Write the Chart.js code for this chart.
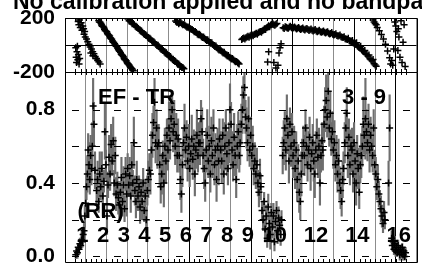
<!DOCTYPE html>
<html>
<head>
<meta charset="utf-8">
<script src="https://cdn.jsdelivr.net/npm/chart.js@4/dist/chart.umd.min.js"></script>
<style>
body { margin: 0; background: #fff; overflow: hidden; }
#wrap { position: relative; width: 422px; height: 275px; overflow: hidden; }
#chart { position: absolute; left: 0; top: 0; }
#title { position: absolute; left: 13px; top: -10px; font: bold 23px/23px 'Liberation Sans', Arial, sans-serif; white-space: nowrap; color: #000; }
</style>
</head>
<body>
<div id="wrap">
  <canvas id="chart" width="422" height="275"></canvas>
  <div id="title">No calibration applied and no bandpass applied</div>
</div>
<script>
// scan numbers written at the bottom of each scan (empty = not written)
const scanLabels = ['1', '2', '3', '4', '5', '6', '7', '8', '9', '10', '', '12', '', '14', '', '16'];

// phase panel ticks
const phaseTicks = [-200, 0, 200];
const phaseTickLabels = ['-200', '', '200'];

// amplitude panel ticks
const ampTicks = [0.0, 0.4, 0.8];
const ampTickLabels = ['0.0', '0.4', '0.8'];
const ampMinorTicks = [0.0, 0.2, 0.4, 0.6, 0.8];

// phase (degrees) vs time (scan units)
const phaseX = [
  0.02, 0.04, 0.06, 0.08, 0.10, 0.12, 0.15, 0.18, 0.21, 0.14, 0.17, 0.20, 0.24, 0.28, 0.32, 0.36, 0.40, 0.45, 0.42, 0.48, 0.54, 0.60, 0.66, 0.72, 0.78, 0.84, 0.90, 0.96, 1.02, 1.08, 1.14, 1.20, 0.75, 0.85,
  1.13, 1.20, 1.27, 1.34, 1.41, 1.48, 1.55, 1.62, 1.69, 1.76, 1.83, 1.90, 1.97, 2.04, 2.11, 2.18, 2.25, 2.32, 2.39, 2.46, 2.53, 2.60, 2.67, 2.74, 2.80,
  1.16, 1.24, 1.30, 1.38, 1.44, 1.52, 1.58, 1.66, 1.72, 1.80, 1.86, 1.94, 2.00, 2.08, 2.14, 2.22, 2.28, 2.36, 2.42, 2.50, 2.56, 2.64, 2.70, 2.77,
  2.55, 2.65, 2.75, 2.85, 2.95, 3.05, 3.15, 3.25, 3.35, 3.45, 3.55, 3.65, 3.75, 3.85, 3.95, 4.05, 4.15, 4.25, 4.35, 4.45, 4.55, 4.65, 4.75, 4.85, 4.95, 5.05, 5.15, 5.25,
  2.60, 2.70, 2.80, 2.90, 3.00, 3.10, 3.20, 3.30, 3.40, 3.50, 3.60, 3.70, 3.80, 3.90, 4.00, 4.10, 4.20, 4.30, 4.40, 4.50, 4.60, 4.70, 4.80, 4.90, 5.00, 5.10, 5.20,
  4.85, 4.95, 5.05, 5.15, 5.25, 5.35, 5.45, 5.55, 5.65, 5.75, 5.85, 5.95, 6.05, 6.15, 6.25, 6.35, 6.45, 6.55, 6.65, 6.75, 6.85, 6.95, 7.05, 7.15, 7.25, 7.35, 7.45, 7.55, 7.65, 7.75, 7.85, 7.92,
  4.90, 5.00, 5.10, 5.20, 5.30, 5.40, 5.50, 5.60, 5.70, 5.80, 5.90, 6.00, 6.10, 6.20, 6.30, 6.40, 6.50, 6.60, 6.70, 6.80, 6.90, 7.00, 7.10, 7.20, 7.30, 7.40, 7.50, 7.60, 7.70, 7.80, 7.88,
  8.05, 8.15, 8.25, 8.35, 8.45, 8.55, 8.65, 8.75, 8.85, 8.95, 9.05, 9.15, 9.25, 9.35, 9.45, 9.55, 9.65, 9.75,
  8.10, 8.20, 8.30, 8.40, 8.50, 8.60, 8.70, 8.80, 8.90, 9.00, 9.10, 9.20, 9.30, 9.40, 9.50, 9.60, 9.70,
  9.30, 9.35, 9.60, 9.70, 9.80, 9.85, 9.90, 9.95,
  10.05, 10.15, 10.25, 10.35, 10.45, 10.55, 10.65, 10.75, 10.85, 10.95, 11.05, 11.15, 11.25, 11.35, 11.45, 11.55, 11.65, 11.75, 11.85, 11.95, 12.05, 12.15, 12.25, 12.35, 12.45, 12.55, 12.65, 12.75, 12.85, 12.95, 13.05, 13.15, 13.25, 13.35, 13.45, 13.55, 13.65, 13.75, 13.85, 13.95, 14.05, 14.15, 14.25, 14.35, 14.45, 14.55,
  10.10, 10.20, 10.30, 10.40, 10.50, 10.60, 10.70, 10.80, 10.90, 11.00, 11.10, 11.20, 11.30, 11.40, 11.50, 11.60, 11.70, 11.80, 11.90, 12.00, 12.10, 12.20, 12.30, 12.40, 12.50, 12.60, 12.70, 12.80, 12.90, 13.00, 13.10, 13.20, 13.30, 13.40, 13.50, 13.60, 13.70, 13.80, 13.90, 14.00, 14.10, 14.20, 14.30, 14.40, 14.50,
  14.40, 14.45, 14.50, 14.55, 14.60, 14.70, 14.80, 14.90, 15.00, 15.10, 15.20, 15.25, 15.30, 15.35, 15.40, 15.45, 15.50, 15.55, 15.60, 15.62, 15.65, 15.70, 15.75, 15.80, 15.85, 15.90, 15.95
];
const phaseY = [
  -20, -90, -130, -50, -10, -110, -70, -140, -100, 175, 150, 185, 130, 165, 110, 140, 120, 100, 80, 60, 45, 25, 5, -15, -30, -50, -65, -85, -100, -115, -125, -140, -60, -80,
  182, 168, 148, 137, 116, 104, 86, 74, 53, 42, 20, 10, -10, -23, -40, -56, -74, -86, -107, -116, -137, -148, -167, -176, -190,
  170, 160, 138, 130, 108, 98, 78, 66, 48, 30, 18, -2, -12, -34, -46, -68, -78, -100, -110, -130, -140, -160, -170, -185,
  192, 176, 158, 150, 133, 122, 106, 94, 78, 68, 50, 42, 23, 14, -4, -13, -32, -40, -60, -68, -87, -96, -114, -123, -142, -150, -167, -176,
  180, 170, 160, 138, 132, 112, 104, 84, 76, 58, 50, 30, 22, 4, -2, -24, -30, -52, -58, -80, -86, -108, -114, -134, -140, -160, -166,
  178, 168, 164, 158, 152, 138, 134, 123, 114, 98, 92, 76, 72, 56, 50, 33, 27, 13, 4, -12, -20, -37, -43, -60, -66, -82, -90, -104, -110, -124, -130, -140,
  168, 158, 166, 150, 146, 132, 128, 116, 108, 100, 82, 80, 62, 60, 40, 38, 18, 16, -4, -8, -30, -32, -52, -54, -74, -78, -96, -100, -118, -122, -136,
  40, 52, 54, 64, 66, 74, 78, 87, 90, 100, 106, 120, 128, 142, 148, 157, 146, 160,
  48, 44, 60, 58, 72, 68, 82, 80, 96, 94, 112, 114, 134, 136, 152, 150, 154,
  -125, -50, -130, -170, -150, -60, -20, 10,
  128, 136, 126, 133, 129, 127, 126, 125, 121, 121, 117, 118, 114, 113, 109, 109, 104, 104, 99, 99, 94, 94, 87, 86, 79, 77, 71, 69, 61, 56, 47, 41, 31, 25, 14, 6, -9, -21, -37, -49, -66, -81, -101, -117, -139, -157,
  122, 132, 124, 138, 122, 133, 119, 130, 115, 126, 112, 123, 108, 119, 104, 114, 99, 110, 94, 104, 88, 98, 82, 92, 74, 84, 66, 74, 58, 62, 44, 50, 28, 34, 10, 16, -14, -10, -42, -40, -72, -74, -110, -108, -148,
  185, 170, 160, 150, 130, 105, 78, 45, 5, -45, -95, -140, -115, -150, -30, 170, 140, 100, -40, 120, 60, -90, 180, -130, 20, 150, -160
];

// amplitude vs time, one line per scan
const ampX = [
  0.02, 0.06, 0.10, 0.14, 0.18, 0.22, 0.26, 0.30, 0.34, 0.38, 0.42, 0.46, 0.50, 0.54, 0.58, 0.62, 0.66, 0.70, 0.74, 0.78, 0.82, 0.86, 0.90, 0.95,
  1.03, 1.08, 1.13, 1.18, 1.23, 1.28, 1.33, 1.38, 1.43, 1.48, 1.53, 1.58, 1.63, 1.68, 1.73, 1.78, 1.83, 1.88, 1.93, 1.97,
  2.03, 2.08, 2.13, 2.18, 2.23, 2.28, 2.33, 2.38, 2.43, 2.48, 2.53, 2.58, 2.63, 2.68, 2.73, 2.78, 2.83, 2.88, 2.93, 2.97,
  3.03, 3.08, 3.13, 3.18, 3.23, 3.28, 3.33, 3.38, 3.43, 3.48, 3.53, 3.58, 3.63, 3.68, 3.73, 3.78, 3.83, 3.88, 3.93, 3.97,
  4.03, 4.08, 4.13, 4.18, 4.23, 4.28, 4.33, 4.38, 4.43, 4.48, 4.53, 4.58, 4.63, 4.68, 4.73, 4.78, 4.83, 4.88, 4.93, 4.97,
  5.03, 5.08, 5.13, 5.18, 5.23, 5.28, 5.33, 5.38, 5.43, 5.48, 5.53, 5.58, 5.63, 5.68, 5.73, 5.78, 5.83, 5.88, 5.93, 5.97,
  6.03, 6.08, 6.13, 6.18, 6.23, 6.28, 6.33, 6.38, 6.43, 6.48, 6.53, 6.58, 6.63, 6.68, 6.73, 6.78, 6.83, 6.88, 6.93, 6.97,
  7.03, 7.08, 7.13, 7.18, 7.23, 7.28, 7.33, 7.38, 7.43, 7.48, 7.53, 7.58, 7.63, 7.68, 7.73, 7.78, 7.83, 7.88, 7.93, 7.97,
  8.03, 8.08, 8.13, 8.18, 8.23, 8.28, 8.33, 8.38, 8.43, 8.48, 8.53, 8.58, 8.63, 8.68, 8.73, 8.78, 8.83, 8.88, 8.93, 8.97,
  9.03, 9.08, 9.13, 9.18, 9.23, 9.28, 9.33, 9.38, 9.43, 9.48, 9.53, 9.58, 9.63, 9.68, 9.73, 9.78, 9.83, 9.88, 9.93, 9.97,
  10.03, 10.08, 10.13, 10.18, 10.23, 10.28, 10.33, 10.38, 10.43, 10.48, 10.53, 10.58, 10.63, 10.68, 10.73, 10.78, 10.83, 10.88, 10.93, 10.97,
  11.03, 11.08, 11.13, 11.18, 11.23, 11.28, 11.33, 11.38, 11.43, 11.48, 11.53, 11.58, 11.63, 11.68, 11.73, 11.78, 11.83, 11.88, 11.93, 11.97,
  12.03, 12.08, 12.13, 12.18, 12.23, 12.28, 12.33, 12.38, 12.43, 12.48, 12.53, 12.58, 12.63, 12.68, 12.73, 12.78, 12.83, 12.88, 12.93, 12.97,
  13.03, 13.08, 13.13, 13.18, 13.23, 13.28, 13.33, 13.38, 13.43, 13.48, 13.53, 13.58, 13.63, 13.68, 13.73, 13.78, 13.83, 13.88, 13.93, 13.97,
  14.03, 14.08, 14.13, 14.18, 14.23, 14.28, 14.33, 14.38, 14.43, 14.48, 14.53, 14.58, 14.63, 14.68, 14.73, 14.78, 14.83, 14.88, 14.93, 14.97,
  15.15, 15.20, 15.30, 15.33, 15.37, 15.41, 15.45, 15.49, 15.53, 15.57, 15.61, 15.65, 15.69, 15.73, 15.77, 15.81, 15.85, 15.89, 15.93, 15.97
];
const ampY = [
  0.01, 0.03, 0.02, 0.05, 0.04, 0.07, 0.06, 0.09, 0.08, 0.12, 0.14, 0.22, 0.29, 0.38, 0.45, 0.58, 0.50, 0.42, 0.55, 0.48, 0.60, 0.82, 0.72, 0.47,
  0.36, 0.42, 0.30, 0.45, 0.38, 0.48, 0.33, 0.41, 0.68, 0.50, 0.22, 0.39, 0.54, 0.45, 0.61, 0.52, 0.63, 0.40, 0.55, 0.34,
  0.39, 0.32, 0.28, 0.35, 0.43, 0.30, 0.39, 0.26, 0.45, 0.34, 0.48, 0.39, 0.44, 0.33, 0.50, 0.40, 0.62, 0.36, 0.30, 0.42,
  0.33, 0.38, 0.27, 0.35, 0.30, 0.40, 0.25, 0.33, 0.20, 0.36, 0.42, 0.47, 0.45, 0.58, 0.66, 0.73, 0.84, 0.62, 0.70, 0.60,
  0.62, 0.50, 0.38, 0.45, 0.55, 0.40, 0.60, 0.52, 0.66, 0.58, 0.70, 0.63, 0.75, 0.80, 0.68, 0.72, 0.60, 0.66, 0.55, 0.64,
  0.55, 0.42, 0.34, 0.50, 0.62, 0.70, 0.58, 0.65, 0.52, 0.60, 0.48, 0.56, 0.64, 0.53, 0.60, 0.45, 0.58, 0.66, 0.55, 0.62,
  0.62, 0.75, 0.68, 0.55, 0.48, 0.40, 0.58, 0.66, 0.52, 0.60, 0.45, 0.63, 0.55, 0.70, 0.50, 0.58, 0.42, 0.60, 0.52, 0.64,
  0.58, 0.52, 0.66, 0.45, 0.60, 0.70, 0.56, 0.48, 0.62, 0.80, 0.72, 0.58, 0.50, 0.65, 0.55, 0.42, 0.60, 0.68, 0.55, 0.62,
  0.72, 0.80, 0.88, 0.92, 0.76, 0.70, 0.62, 0.75, 0.58, 0.66, 0.55, 0.60, 0.48, 0.52, 0.45, 0.50, 0.40, 0.35, 0.44, 0.38,
  0.25, 0.20, 0.30, 0.15, 0.22, 0.10, 0.27, 0.18, 0.12, 0.24, 0.16, 0.22, 0.08, 0.19, 0.25, 0.14, 0.21, 0.17, 0.12, 0.20,
  0.55, 0.62, 0.70, 0.58, 0.75, 0.66, 0.52, 0.72, 0.60, 0.68, 0.55, 0.62, 0.48, 0.58, 0.42, 0.52, 0.35, 0.30, 0.45, 0.55,
  0.62, 0.55, 0.70, 0.60, 0.50, 0.58, 0.65, 0.48, 0.56, 0.62, 0.52, 0.45, 0.58, 0.66, 0.54, 0.60, 0.40, 0.55, 0.63, 0.58,
  0.72, 0.80, 0.85, 0.76, 0.90, 0.70, 0.78, 0.64, 0.68, 0.58, 0.62, 0.50, 0.55, 0.45, 0.52, 0.40, 0.36, 0.30, 0.42, 0.48,
  0.62, 0.70, 0.78, 0.55, 0.65, 0.50, 0.60, 0.58, 0.45, 0.62, 0.52, 0.40, 0.56, 0.48, 0.35, 0.50, 0.55, 0.60, 0.72, 0.66,
  0.75, 0.68, 0.62, 0.72, 0.58, 0.66, 0.60, 0.55, 0.70, 0.50, 0.45, 0.38, 0.42, 0.34, 0.30, 0.26, 0.22, 0.18, 0.24, 0.20,
  0.40, 0.70, 0.10, 0.06, 0.08, 0.04, 0.07, 0.03, 0.05, 0.02, 0.06, 0.03, 0.01, 0.04, 0.02, 0.05, 0.01, 0.03, 0.00, 0.02
];
const ampErr = [
  0.02, 0.02, 0.03, 0.02, 0.03, 0.03, 0.02, 0.04, 0.03, 0.04, 0.05, 0.06, 0.08, 0.07, 0.10, 0.09, 0.12, 0.08, 0.11, 0.09, 0.13, 0.15, 0.12, 0.10,
  0.08, 0.10, 0.06, 0.12, 0.07, 0.09, 0.11, 0.06, 0.15, 0.08, 0.10, 0.07, 0.12, 0.09, 0.11, 0.08, 0.13, 0.07, 0.10, 0.09,
  0.07, 0.09, 0.08, 0.06, 0.11, 0.08, 0.10, 0.07, 0.09, 0.12, 0.08, 0.06, 0.10, 0.09, 0.11, 0.07, 0.14, 0.08, 0.09, 0.10,
  0.08, 0.06, 0.09, 0.07, 0.10, 0.08, 0.06, 0.09, 0.07, 0.08, 0.10, 0.09, 0.11, 0.10, 0.12, 0.09, 0.13, 0.11, 0.10, 0.12,
  0.10, 0.12, 0.09, 0.11, 0.08, 0.13, 0.10, 0.12, 0.09, 0.11, 0.14, 0.10, 0.12, 0.09, 0.11, 0.13, 0.10, 0.12, 0.09, 0.11,
  0.09, 0.11, 0.10, 0.12, 0.08, 0.13, 0.10, 0.09, 0.11, 0.12, 0.10, 0.08, 0.13, 0.11, 0.09, 0.12, 0.10, 0.14, 0.09, 0.11,
  0.12, 0.10, 0.13, 0.09, 0.11, 0.10, 0.12, 0.14, 0.09, 0.11, 0.10, 0.13, 0.12, 0.10, 0.11, 0.09, 0.12, 0.10, 0.13, 0.11,
  0.10, 0.12, 0.09, 0.11, 0.13, 0.10, 0.12, 0.09, 0.11, 0.14, 0.12, 0.10, 0.09, 0.13, 0.11, 0.10, 0.12, 0.11, 0.09, 0.12,
  0.11, 0.13, 0.10, 0.12, 0.09, 0.11, 0.10, 0.12, 0.09, 0.10, 0.08, 0.11, 0.09, 0.10, 0.08, 0.09, 0.07, 0.08, 0.09, 0.07,
  0.05, 0.06, 0.05, 0.07, 0.06, 0.05, 0.07, 0.06, 0.08, 0.05, 0.06, 0.07, 0.05, 0.06, 0.05, 0.07, 0.06, 0.05, 0.06, 0.05,
  0.10, 0.12, 0.09, 0.11, 0.13, 0.10, 0.12, 0.09, 0.11, 0.10, 0.12, 0.09, 0.11, 0.10, 0.12, 0.09, 0.11, 0.10, 0.12, 0.09,
  0.09, 0.11, 0.10, 0.12, 0.09, 0.10, 0.11, 0.12, 0.09, 0.10, 0.11, 0.13, 0.10, 0.09, 0.11, 0.10, 0.12, 0.09, 0.10, 0.11,
  0.10, 0.12, 0.14, 0.11, 0.13, 0.10, 0.12, 0.09, 0.11, 0.10, 0.12, 0.09, 0.11, 0.10, 0.12, 0.09, 0.10, 0.08, 0.10, 0.09,
  0.11, 0.10, 0.14, 0.12, 0.10, 0.11, 0.09, 0.12, 0.10, 0.11, 0.09, 0.12, 0.10, 0.11, 0.09, 0.10, 0.12, 0.11, 0.15, 0.10,
  0.22, 0.12, 0.10, 0.11, 0.12, 0.10, 0.11, 0.09, 0.10, 0.08, 0.09, 0.07, 0.08, 0.07, 0.06, 0.07, 0.06, 0.05, 0.06, 0.05,
  0.12, 0.18, 0.04, 0.03, 0.04, 0.03, 0.04, 0.03, 0.03, 0.02, 0.03, 0.02, 0.03, 0.02, 0.03, 0.02, 0.03, 0.02, 0.02, 0.03
];

// styling
const FONT = 'Liberation Sans';
const GREY = '#8c8c8c';
const boldSeparators = [0, 6, 9, 11, 14, 16];
const notes = [
  { text: 'EF - TR', x: 1.1, y: 0.83 },
  { text: '3 - 9', x: 12.9, y: 0.83 },
  { text: '(RR)', x: 0.1, y: 0.21 }
];

// frame, inward minor ticks, dashes on the scan separators and the texts
const aipsFrame = {
  id: 'aipsFrame',
  afterDatasetsDraw(chart) {
    const { ctx, chartArea: area, scales } = chart;
    const xs = scales.x, yP = scales.yPhase, yA = scales.yAmp;
    const snap = v => Math.round(v) + 0.5;
    ctx.save();
    ctx.strokeStyle = '#000';
    ctx.lineWidth = 1;
    ctx.beginPath();
    [yP, yA].forEach(s => {
      ctx.rect(snap(area.left), snap(s.top), Math.round(area.right) - Math.round(area.left), Math.round(s.bottom) - Math.round(s.top));
      for (let u = 0; u <= 16; u += 0.25) {
        const px = snap(xs.getPixelForValue(u));
        ctx.moveTo(px, Math.round(s.top)); ctx.lineTo(px, Math.round(s.top) + 3);
        ctx.moveTo(px, Math.round(s.bottom)); ctx.lineTo(px, Math.round(s.bottom) - 3);
      }
    });
    ctx.stroke();

    ctx.save();
    ctx.beginPath();
    ctx.rect(area.left, area.top, area.right - area.left, area.bottom - area.top);
    ctx.clip();
    ctx.beginPath();
    for (let k = 0; k <= 16; k++) {
      const px = Math.round(xs.getPixelForValue(k));
      ampMinorTicks.forEach(v => {
        const py = snap(yA.getPixelForValue(v));
        ctx.moveTo(px - 3, py); ctx.lineTo(px + 4, py);
      });
    }
    ctx.stroke();
    ctx.restore();

    ctx.fillStyle = '#000';
    ctx.font = 'bold 22px ' + FONT;
    ctx.textAlign = 'left';
    ctx.textBaseline = 'alphabetic';
    scanLabels.forEach((t, i) => {
      if (t) ctx.fillText(t, xs.getPixelForValue(i) + 1, yA.getPixelForValue(0.08));
    });
    notes.forEach(n => ctx.fillText(n.text, xs.getPixelForValue(n.x), yA.getPixelForValue(n.y)));
    ctx.restore();
  }
};

const tickFont = { family: FONT, size: 21, weight: 'bold', lineHeight: 1 };

// fixed axis column; the edge labels may overhang the panels, as in the original
const fitYAxis = s => {
  s.width = 65;
  s.paddingTop = 0;
  s.paddingBottom = 0;
};

new Chart(document.getElementById('chart'), {
  type: 'scatter',
  data: {
    datasets: [
      {
        label: 'phase',
        data: phaseX.map((x, i) => ({ x, y: phaseY[i] })),
        yAxisID: 'yPhase',
        pointStyle: 'cross',
        pointRadius: 3.5,
        pointBorderColor: '#000',
        pointBorderWidth: 1.5,
        order: 0
      },
      {
        label: 'amplitude',
        data: ampX.map((x, i) => ({ x, y: ampY[i] })),
        yAxisID: 'yAmp',
        pointStyle: 'cross',
        pointRadius: 3.5,
        pointBorderColor: '#000',
        pointBorderWidth: 1.5,
        order: 0
      },
      {
        type: 'bar',
        label: 'amplitude error',
        data: ampX.map((x, i) => ({ x, y: [ampY[i] - ampErr[i], ampY[i] + ampErr[i]] })),
        yAxisID: 'yAmp',
        backgroundColor: '#6e6e6e',
        borderWidth: 0,
        barThickness: 1.5,
        grouped: false,
        order: 1
      }
    ]
  },
  options: {
    responsive: false,
    animation: false,
    events: [],
    devicePixelRatio: 1,
    layout: { padding: { top: 18, right: 4, bottom: 13, left: 0 } },
    plugins: { legend: { display: false }, tooltip: { enabled: false } },
    scales: {
      x: {
        type: 'linear',
        min: 0,
        max: 16,
        afterFit: s => { s.height = 0; },
        ticks: { display: false, stepSize: 1 },
        border: { display: false },
        grid: {
          drawTicks: false,
          lineWidth: 1,
          color: ctx => ctx.tick && boldSeparators.includes(ctx.tick.value) ? '#000' : GREY
        }
      },
      yAmp: {
        type: 'linear',
        position: 'left',
        stack: 'panels',
        stackWeight: 190,
        min: -0.03,
        max: 1.005,
        afterBuildTicks: s => { s.ticks = ampTicks.map(v => ({ value: v })); },
        afterFit: fitYAxis,
        ticks: { font: tickFont, color: '#000', padding: 10, autoSkip: false, callback: (v, i) => ampTickLabels[i] },
        border: { display: false },
        grid: { display: false, drawTicks: false }
      },
      yPhase: {
        type: 'linear',
        position: 'left',
        stack: 'panels',
        stackWeight: 54,
        min: -200,
        max: 200,
        afterBuildTicks: s => { s.ticks = phaseTicks.map(v => ({ value: v })); },
        afterFit: fitYAxis,
        ticks: { font: tickFont, color: '#000', padding: 10, autoSkip: false, callback: (v, i) => phaseTickLabels[i] },
        border: { display: false },
        grid: {
          drawTicks: false,
          color: ctx => ctx.tick && ctx.tick.value === 0 ? '#000' : 'rgba(0,0,0,0)'
        }
      }
    }
  },
  plugins: [aipsFrame]
});
</script>
</body>
</html>
